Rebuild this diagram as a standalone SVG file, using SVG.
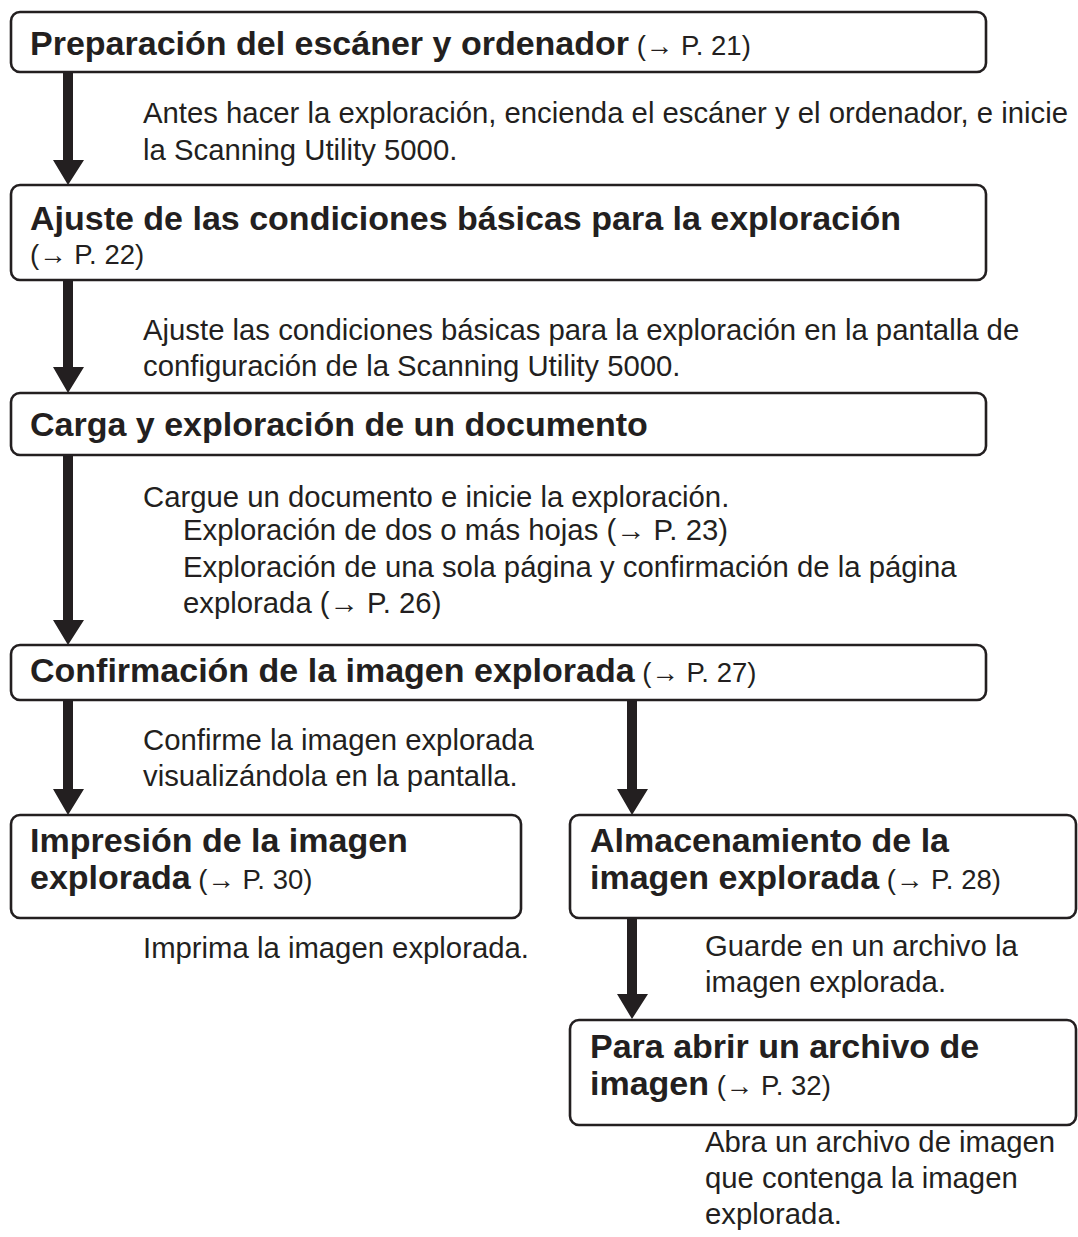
<svg xmlns="http://www.w3.org/2000/svg" width="1078" height="1237" viewBox="0 0 1078 1237">
<style>
.box{fill:#fff;stroke:#231f20;stroke-width:2.6}
.t{font-family:"Liberation Sans",Arial,sans-serif;font-weight:bold;font-size:34px;fill:#231f20}
.r{font-family:"Liberation Sans",Arial,sans-serif;font-weight:normal;font-size:27.5px;fill:#231f20}
.b{font-family:"Liberation Sans",Arial,sans-serif;font-size:29.3px;fill:#231f20}
.sh{fill:#231f20}
</style>
<rect width="1078" height="1237" fill="#fff"/>
<g id="connectors">
<path class="sh" d="M63 72 H73 V160 H84 L68 185 L53 160 H63 Z"/>
<path class="sh" d="M63 280 H73 V367 H84 L68 393 L53 367 H63 Z"/>
<path class="sh" d="M63 455 H73 V620 H84 L68 645 L53 620 H63 Z"/>
<path class="sh" d="M63 700 H73 V789 H84 L68 815 L53 789 H63 Z"/>
<path class="sh" d="M627 700 H637 V789 H648 L632 815 L617 789 H627 Z"/>
<path class="sh" d="M627 918 H637 V994 H648 L632 1019 L617 994 H627 Z"/>
</g>
<g id="n1">
<rect class="box" x="11" y="12" width="975" height="60" rx="9"/>
<text x="30" y="55"><tspan class="t">Preparación del escáner y ordenador</tspan><tspan class="r"> (→ P. 21)</tspan></text>
</g>
<g id="d1">
<text class="b" x="143" y="123">Antes hacer la exploración, encienda el escáner y el ordenador, e inicie</text>
<text class="b" x="143" y="160">la Scanning Utility 5000.</text>
</g>
<g id="n2">
<rect class="box" x="11" y="185" width="975" height="95" rx="9"/>
<text class="t" x="30" y="230">Ajuste de las condiciones básicas para la exploración</text>
<text class="r" x="30" y="264">(→ P. 22)</text>
</g>
<g id="d2">
<text class="b" x="143" y="340">Ajuste las condiciones básicas para la exploración en la pantalla de</text>
<text class="b" x="143" y="376">configuración de la Scanning Utility 5000.</text>
</g>
<g id="n3">
<rect class="box" x="11" y="393" width="975" height="62" rx="9"/>
<text class="t" x="30" y="436">Carga y exploración de un documento</text>
</g>
<g id="d3">
<text class="b" x="143" y="507">Cargue un documento e inicie la exploración.</text>
<text class="b" x="183" y="540">Exploración de dos o más hojas (→ P. 23)</text>
<text class="b" x="183" y="577">Exploración de una sola página y confirmación de la página</text>
<text class="b" x="183" y="613">explorada (→ P. 26)</text>
</g>
<g id="n4">
<rect class="box" x="11" y="645" width="975" height="55" rx="9"/>
<text x="30" y="682"><tspan class="t">Confirmación de la imagen explorada</tspan><tspan class="r"> (→ P. 27)</tspan></text>
</g>
<g id="d4">
<text class="b" x="143" y="750">Confirme la imagen explorada</text>
<text class="b" x="143" y="786">visualizándola en la pantalla.</text>
</g>
<g id="n5">
<rect class="box" x="11" y="815" width="510" height="103" rx="9"/>
<text class="t" x="30" y="852">Impresión de la imagen</text>
<text x="30" y="889"><tspan class="t">explorada</tspan><tspan class="r"> (→ P. 30)</tspan></text>
</g>
<g id="d5">
<text class="b" x="143" y="958">Imprima la imagen explorada.</text>
</g>
<g id="n6">
<rect class="box" x="570" y="815" width="506" height="103" rx="9"/>
<text class="t" x="590" y="852">Almacenamiento de la</text>
<text x="590" y="889"><tspan class="t">imagen explorada</tspan><tspan class="r"> (→ P. 28)</tspan></text>
</g>
<g id="d6">
<text class="b" x="705" y="956">Guarde en un archivo la</text>
<text class="b" x="705" y="992">imagen explorada.</text>
</g>
<g id="n7">
<rect class="box" x="570" y="1020" width="506" height="105" rx="9"/>
<text class="t" x="590" y="1058">Para abrir un archivo de</text>
<text x="590" y="1095"><tspan class="t">imagen</tspan><tspan class="r"> (→ P. 32)</tspan></text>
</g>
<g id="d7">
<text class="b" x="705" y="1152">Abra un archivo de imagen</text>
<text class="b" x="705" y="1188">que contenga la imagen</text>
<text class="b" x="705" y="1224">explorada.</text>
</g>
</svg>
